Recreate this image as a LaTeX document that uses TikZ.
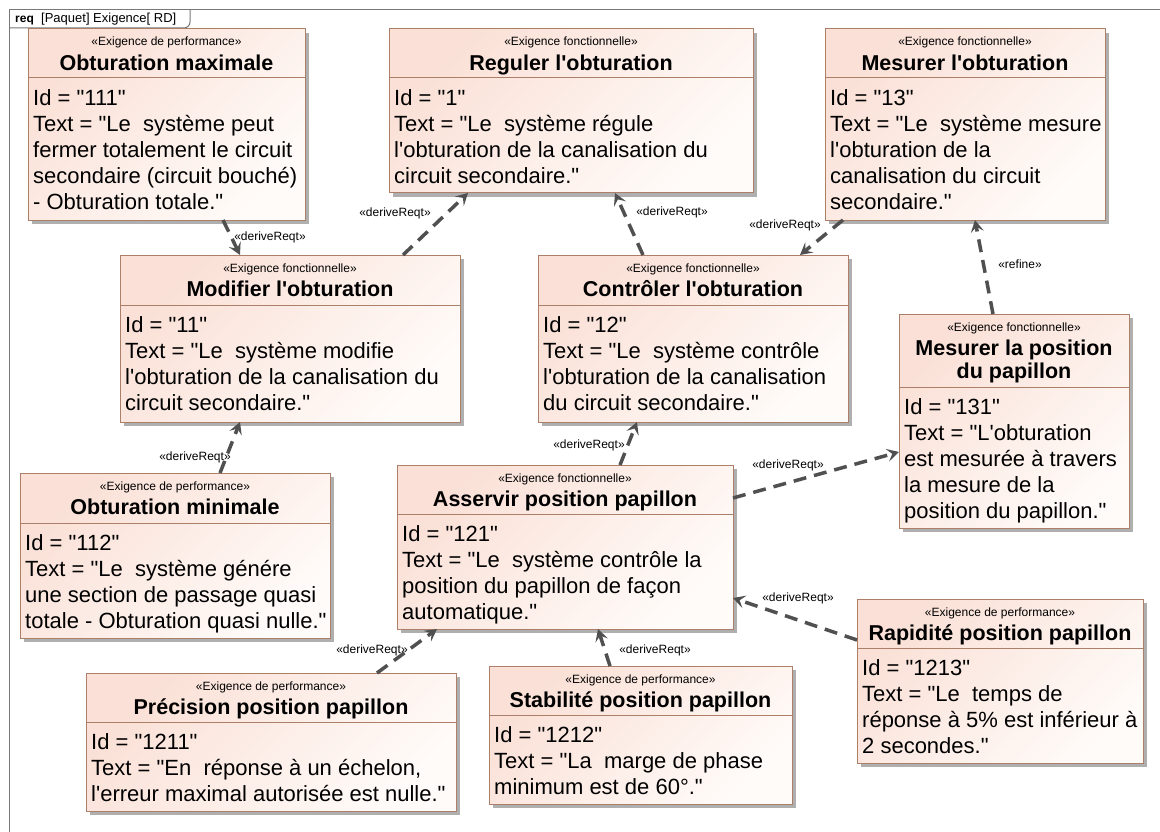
\documentclass[tikz,border=0pt]{standalone}
\usepackage{fontspec}
\setmainfont{Liberation Sans}
\usetikzlibrary{arrows.meta,shadows}

\definecolor{reqborder}{RGB}{172,128,104}
\definecolor{reqpinkA}{RGB}{250,224,214}
\definecolor{reqpinkB}{RGB}{255,251,249}
\definecolor{reqshadow}{RGB}{175,175,175}
\definecolor{connector}{RGB}{80,80,80}
\definecolor{framegray}{RGB}{120,120,120}

\newcommand\ap{\textquotesingle}
\newcommand\qq{\textquotedbl}

% #1 name, #2 x1, #3 y1, #4 x2, #5 y2, #6 header height,
% #7 stereotype, #8 title, #9 body lines
\newcommand\reqblock[9]{%
  \node[reqbox, minimum width={(#4-#2)*1pt}, minimum height={(#5-#3)*1pt},
        anchor=north west] (#1) at (#2,#3) {};
  \draw[reqrule] ([yshift=-#6pt]#1.north west) -- ([yshift=-#6pt]#1.north east);
  \node[stereo] (#1-st) at ({(#2+#4)/2},{#3+17}) {«#7»};
  \node[reqtitle, title lines] (#1-ti) at ({(#2+#4)/2},{#3+41.7}) {#8};
  \node[reqbody] (#1-tx) at ({#2+5},{#3+#6+10}) {\rule{0pt}{17pt}#9};
}

\begin{document}
\begin{tikzpicture}[x=1pt,y=-1pt,
  reqbox/.style={draw=reqborder, line width=1pt, top color=reqpinkA,
    bottom color=reqpinkB, shading angle=45, inner sep=0pt, outer sep=0pt,
    drop shadow={shadow xshift=4pt, shadow yshift=-4pt, fill=reqshadow, opacity=1}},
  reqrule/.style={draw=reqborder, line width=1pt},
  stereo/.style={anchor=base, inner sep=0pt, font=\fontsize{12}{14}\selectfont},
  reqtitle/.style={anchor=base, inner sep=0pt, align=center,
    font=\bfseries\fontsize{21.5}{23}\selectfont},
  title lines/.style={},
  reqbody/.style={anchor=north west, inner sep=0pt, align=left,
    font=\fontsize{22}{26}\selectfont},
  dep/.style={draw=connector, line width=3.5pt, dash pattern=on 13pt off 8pt,
    -{Stealth[length=12pt,width=13pt,inset=5pt]}},
  deplabel/.style={inner sep=0pt, font=\fontsize{12}{14}\selectfont}]

\useasboundingbox (0,0) rectangle (1160,832);
\fill[white] (0,0) rectangle (1160,832);

% diagram frame and its name tab
\draw[framegray, line width=1pt] (9,832) -- (9,10) -- (1160,10);
\draw[framegray, line width=1pt] (9,28) -- (184,28) to[out=0,in=-90] (190,22) -- (190,10);
\node[anchor=base west, inner sep=0pt, font=\bfseries\fontsize{12}{14}\selectfont]
  (frametag) at (15,23) {req};
\node[anchor=base west, inner sep=0pt, font=\fontsize{13}{15}\selectfont]
  (framename) at (41,23) {[Paquet] Exigence[ RD]};

% requirements
\reqblock{omax}{28}{29}{305}{220}{49}{Exigence de performance}{Obturation maximale}
  {Id = \qq111\qq\\Text = \qq Le~ système peut\\fermer totalement le circuit\\secondaire (circuit bouché)\\- Obturation totale.\qq}
\reqblock{reg}{389}{29}{753}{193}{49}{Exigence fonctionnelle}{Reguler l\ap obturation}
  {Id = \qq1\qq\\Text = \qq Le~ système régule\\l\ap obturation de la canalisation du\\circuit secondaire.\qq}
\reqblock{mes}{825}{29}{1105}{220}{49}{Exigence fonctionnelle}{Mesurer l\ap obturation}
  {Id = \qq13\qq\\Text = \qq Le~ système mesure\\l\ap obturation de la\\canalisation du circuit\\secondaire.\qq}
\reqblock{modif}{120}{255}{460}{422}{50}{Exigence fonctionnelle}{Modifier l\ap obturation}
  {Id = \qq11\qq\\Text = \qq Le~ système modifie\\l\ap obturation de la canalisation du\\circuit secondaire.\qq}
\reqblock{ctrl}{538}{255}{848}{422}{50}{Exigence fonctionnelle}{Contrôler l\ap obturation}
  {Id = \qq12\qq\\Text = \qq Le~ système contrôle\\l\ap obturation de la canalisation\\du circuit secondaire.\qq}
% two-line title: its baseline anchor sits on the second line
\begin{scope}[title lines/.style={yshift=-23pt}]
\reqblock{mespos}{899}{314}{1129}{528}{73}{Exigence fonctionnelle}{Mesurer la position\\du papillon}
  {Id = \qq131\qq\\Text = \qq L\ap obturation\\est mesurée à travers\\la mesure de la\\position du papillon.\qq}
\end{scope}
\reqblock{omin}{20}{473}{330}{638}{50}{Exigence de performance}{Obturation minimale}
  {Id = \qq112\qq\\Text = \qq Le~ système génére\\une section de passage quasi\\totale - Obturation quasi nulle.\qq}
\reqblock{asv}{397}{465}{733}{629}{49}{Exigence fonctionnelle}{Asservir position papillon}
  {Id = \qq121\qq\\Text = \qq Le~ système contrôle la\\position du papillon de façon\\automatique.\qq}
\reqblock{rap}{857}{599}{1143}{763}{49}{Exigence de performance}{Rapidité position papillon}
  {Id = \qq1213\qq\\Text = \qq Le~ temps de\\réponse à 5\% est inférieur à\\2 secondes.\qq}
\reqblock{prec}{86}{673}{456}{811}{49}{Exigence de performance}{Précision position papillon}
  {Id = \qq1211\qq\\Text = \qq En~ réponse à un échelon,\\l\ap erreur maximal autorisée est nulle.\qq}
\reqblock{stab}{489}{666}{792}{804}{49}{Exigence de performance}{Stabilité position papillon}
  {Id = \qq1212\qq\\Text = \qq La~ marge de phase\\minimum est de 60°.\qq}

% relations
\draw[dep] ([xshift=195pt]omax.south west) -- ([xshift=120pt]modif.north west);
\draw[dep] ([xshift=283pt]modif.north west) -- ([xshift=79pt]reg.south west);
\draw[dep] ([xshift=105pt]ctrl.north west) -- ([xshift=226pt]reg.south west);
\draw[dep] ([xshift=18pt]mes.south west) -- ([xshift=262pt]ctrl.north west);
\draw[dep] ([xshift=94pt]mespos.north west) -- ([xshift=150pt]mes.south west);
\draw[dep] ([xshift=200pt]omin.north west) -- ([xshift=120pt]modif.south west);
\draw[dep] ([xshift=223pt]asv.north west) -- ([xshift=99pt]ctrl.south west);
\draw[dep] ([yshift=-33pt]asv.north east) -- ([yshift=-138pt]mespos.north west);
\draw[dep] ([yshift=-41pt]rap.north west) -- ([yshift=-133pt]asv.north east);
\draw[dep] ([xshift=291pt]prec.north west) -- ([xshift=40pt]asv.south west);
\draw[dep] ([xshift=121pt]stab.north west) -- ([xshift=201pt]asv.south west);

% relation labels
\node[deplabel] (l1) at (270,237) {«deriveReqt»};
\node[deplabel] (l2) at (395,213) {«deriveReqt»};
\node[deplabel] (l3) at (672,212) {«deriveReqt»};
\node[deplabel] (l4) at (785,225) {«deriveReqt»};
\node[deplabel] (l5) at (1020,264) {«refine»};
\node[deplabel] (l6) at (195,457) {«deriveReqt»};
\node[deplabel] (l7) at (589,445) {«deriveReqt»};
\node[deplabel] (l8) at (788,465) {«deriveReqt»};
\node[deplabel] (l9) at (798,598) {«deriveReqt»};
\node[deplabel] (l10) at (372,650) {«deriveReqt»};
\node[deplabel] (l11) at (655,650) {«deriveReqt»};
\end{tikzpicture}
\end{document}
